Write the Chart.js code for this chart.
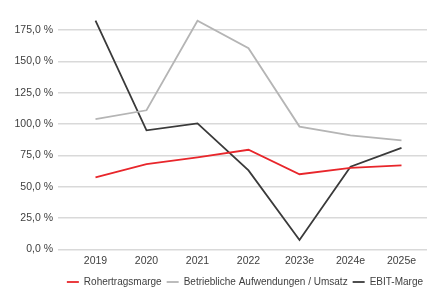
<!DOCTYPE html>
<html>
<head>
<meta charset="utf-8">
<script src="https://cdn.jsdelivr.net/npm/chart.js@4.4.0/dist/chart.umd.min.js"></script>
<style>
  html, body { margin: 0; padding: 0; background: #fff; overflow: hidden; }
  #wrap { width: 427px; height: 287px; }
</style>
</head>
<body>
<div id="wrap"><canvas id="chart" width="427" height="287"></canvas></div>
<script>
// Kennzahlen je Jahr (e = Schätzung)
const years = ['2019', '2020', '2021', '2022', '2023e', '2024e', '2025e'];
const rohertragsmarge = [57.5, 68, 73.5, 79.5, 60, 65, 67];
const betrieblicheAufwendungen = [104, 111, 182.5, 160.5, 98, 91, 87];
const ebitMarge = [182.5, 95, 100.5, 63, 7.5, 66, 81];
const yTicks = [0, 25, 50, 75, 100, 125, 150, 175];

const fontFamily = '"Liberation Sans", Arial, sans-serif';

function formatPercent(v) {
    return v.toFixed(1).replace('.', ',') + ' %';
}

// legend in the original sits a little right of centre
const legendShift = {
    id: 'legendShift',
    afterLayout(chart) {
        const lg = chart.legend;
        if (lg) {
            lg.left += 1;
            lg.right += 1;
        }
    }
};

new Chart(document.getElementById('chart'), {
    type: 'line',
    data: {
        labels: years,
        datasets: [
            {
                label: 'Rohertragsmarge',
                data: rohertragsmarge,
                borderColor: '#e8262b',
                backgroundColor: '#e8262b',
                borderWidth: 1.8
            },
            {
                label: 'Betriebliche Aufwendungen / Umsatz',
                data: betrieblicheAufwendungen,
                borderColor: '#b5b5b5',
                backgroundColor: '#b5b5b5',
                borderWidth: 1.8
            },
            {
                label: 'EBIT-Marge',
                data: ebitMarge,
                borderColor: '#3a3a3a',
                backgroundColor: '#3a3a3a',
                borderWidth: 1.8
            }
        ]
    },
    plugins: [legendShift],
    options: {
        responsive: false,
        animation: false,
        layout: { padding: { top: 4, right: 0, left: 0, bottom: -10 } },
        elements: {
            point: { radius: 0 },
            line: { tension: 0 }
        },
        plugins: {
            tooltip: { enabled: false },
            legend: {
                position: 'bottom',
                align: 'end',
                labels: {
                    usePointStyle: true,
                    pointStyle: 'line',
                    pointStyleWidth: 12,
                    padding: 5,
                    color: '#404040',
                    font: { family: fontFamily, size: 10 }
                }
            }
        },
        scales: {
            x: {
                offset: true,
                grid: { display: false, drawTicks: false },
                border: { display: false },
                ticks: {
                    color: '#404040',
                    padding: 5,
                    font: { family: fontFamily, size: 10.5 }
                }
            },
            y: {
                min: 0,
                max: 190,
                afterBuildTicks: (scale) => {
                    scale.ticks = yTicks.map(v => ({ value: v }));
                },
                afterFit: (scale) => {
                    scale.width = 70;
                },
                border: { display: false },
                grid: {
                    color: '#d9d9d9',
                    lineWidth: 1.5,
                    tickLength: 12
                },
                ticks: {
                    color: '#404040',
                    padding: 5,
                    font: { family: fontFamily, size: 10.5 },
                    callback: (v) => formatPercent(v)
                }
            }
        }
    }
});
</script>
</body>
</html>
